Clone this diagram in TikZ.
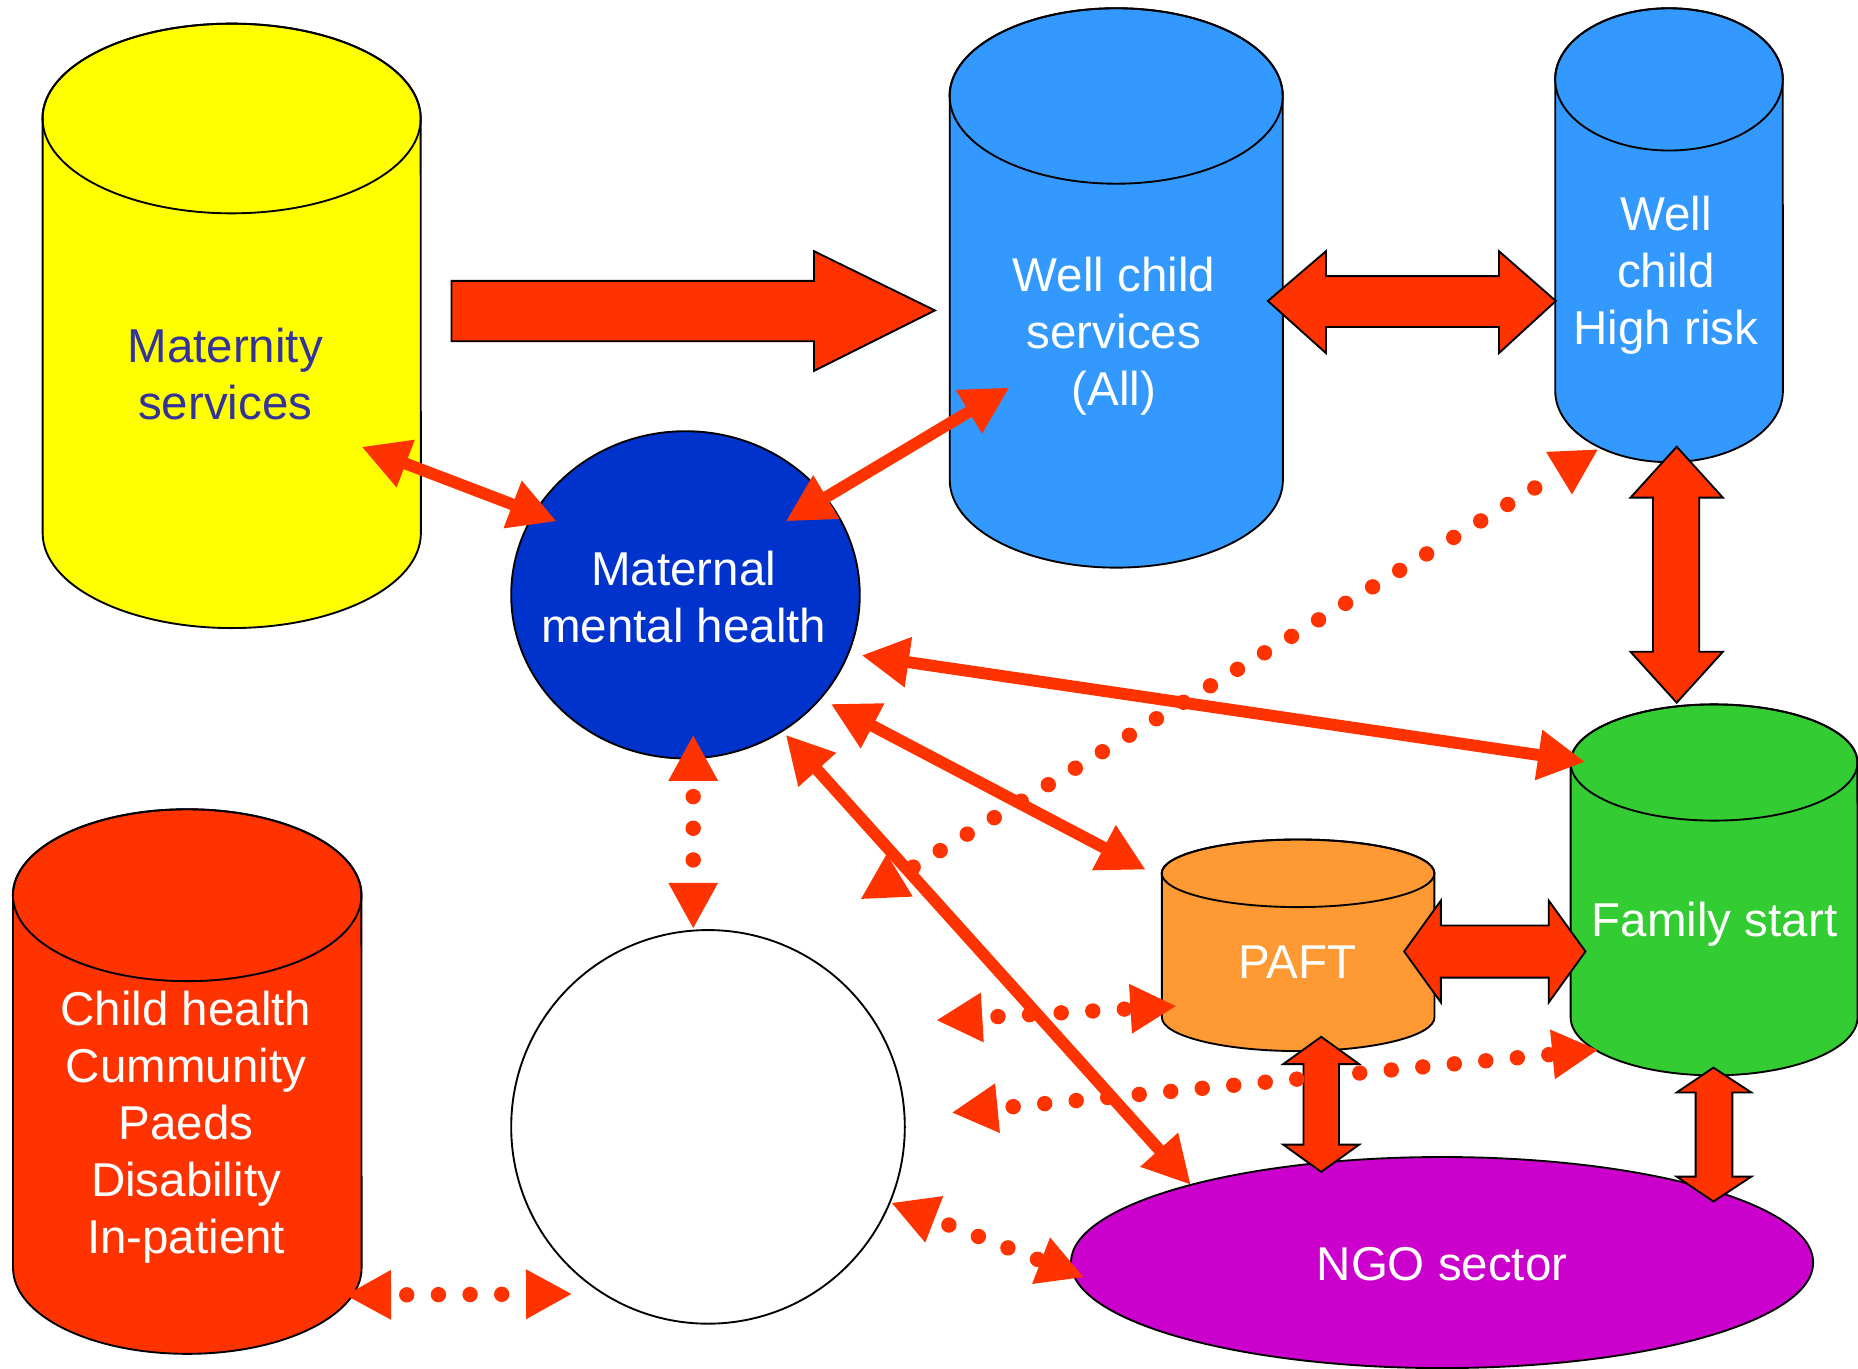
\documentclass[tikz,border=0pt]{standalone}
\usepackage{fontspec}
\setmainfont{Liberation Sans}
\usetikzlibrary{arrows.meta}
\definecolor{cyellow}{HTML}{FFFF00}
\definecolor{clblue}{HTML}{3399FF}
\definecolor{cdblue}{HTML}{0033CC}
\definecolor{cred}{HTML}{FF3300}
\definecolor{corange}{HTML}{FF9933}
\definecolor{cgreen}{HTML}{33CC33}
\definecolor{cmag}{HTML}{CC00CC}
\definecolor{cnavy}{HTML}{333399}
\begin{document}
\begin{tikzpicture}[x=0.01cm,y=0.01cm,
  outl/.style={draw=black, line width=0.45pt},
  blockarrow/.style={fill=cred, draw=black, line width=0.45pt, line join=miter},
  linkarrow/.style={draw=cred, line width=0.1cm, >={Triangle[length=0.4cm,width=0.4cm]}, <->},
  dotarrow/.style={draw=cred, line width=0.13cm, line cap=round, dash pattern=on 0pt off 0.267cm, dash phase=0.11cm, >={Triangle[length=0.39cm,width=0.39cm]}, <->},
  lbl/.style={font=\fontsize{11.4}{13.7}\selectfont, align=center, text=white, inner sep=0pt}
]
\useasboundingbox (0,0) rectangle (1568,-1155);

% ---------- cylinders ----------
% Maternity
\filldraw[fill=cyellow, outl] (36,-100) -- (36,-450) arc[start angle=180,end angle=360,x radius=1.595cm,y radius=0.8cm] -- (355,-100) arc[start angle=0,end angle=180,x radius=1.595cm,y radius=0.8cm] -- cycle;
\draw[outl] (195.5,-100) ellipse[x radius=1.595cm, y radius=0.8cm];
% Well child (All)
\filldraw[fill=clblue, outl] (801.5,-81) -- (801.5,-405) arc[start angle=180,end angle=360,x radius=1.405cm,y radius=0.74cm] -- (1082.5,-81) arc[start angle=0,end angle=180,x radius=1.405cm,y radius=0.74cm] -- cycle;
\draw[outl] (942,-81) ellipse[x radius=1.405cm, y radius=0.74cm];
% Well child high risk
\filldraw[fill=clblue, outl] (1312.5,-67) -- (1312.5,-330) arc[start angle=180,end angle=360,x radius=0.96cm,y radius=0.6cm] -- (1504.5,-67) arc[start angle=0,end angle=180,x radius=0.96cm,y radius=0.6cm] -- cycle;
\draw[outl] (1408.5,-67) ellipse[x radius=0.96cm, y radius=0.6cm];
% Child health
\filldraw[fill=cred, outl] (11,-755.5) -- (11,-1070) arc[start angle=180,end angle=360,x radius=1.47cm,y radius=0.725cm] -- (305,-755.5) arc[start angle=0,end angle=180,x radius=1.47cm,y radius=0.725cm] -- cycle;
\draw[outl] (158,-755.5) ellipse[x radius=1.47cm, y radius=0.725cm];
% PAFT
\filldraw[fill=corange, outl] (980.5,-737) -- (980.5,-858.5) arc[start angle=180,end angle=360,x radius=1.15cm,y radius=0.285cm] -- (1210.5,-737) arc[start angle=0,end angle=180,x radius=1.15cm,y radius=0.285cm] -- cycle;
\draw[outl] (1095.5,-737) ellipse[x radius=1.15cm, y radius=0.285cm];
% Family start
\filldraw[fill=cgreen, outl] (1325.5,-643.5) -- (1325.5,-858.5) arc[start angle=180,end angle=360,x radius=1.21cm,y radius=0.49cm] -- (1567.5,-643.5) arc[start angle=0,end angle=180,x radius=1.21cm,y radius=0.49cm] -- cycle;
\draw[outl] (1446.5,-643.5) ellipse[x radius=1.21cm, y radius=0.49cm];

% ---------- ellipses ----------
\filldraw[fill=cdblue, outl] (578.5,-502) ellipse[x radius=1.47cm, y radius=1.38cm];
\filldraw[fill=white, outl] (597.5,-951) ellipse[x radius=1.66cm, y radius=1.66cm];
\filldraw[fill=cmag, outl] (1217,-1065.5) ellipse[x radius=3.13cm, y radius=0.89cm];

% ---------- labels ----------
\node[lbl, text=cnavy] (mat) at (190,-315.5) {Maternity\\services};
\node[lbl] (wca) at (940,-284) {Well child\\services\\(All)};
\node[lbl] (wch) at (1406,-232.5) {Well\\child\\High risk};
\node[lbl] (mmh) at (577,-504) {Maternal\\mental health};
\node[lbl] (chh) at (157,-951.5) {Child health\\Cummunity\\Paeds\\Disability\\In-patient};
\node[lbl] (paft) at (1095,-812) {PAFT};
\node[lbl] (fs) at (1447,-780) {Family start};
\node[lbl] (ngo) at (1217,-1067) {NGO sector};

% ---------- block arrows ----------
\filldraw[blockarrow] (381,-237) -- (687,-237) -- (687,-212) -- (789,-262) -- (687,-313) -- (687,-288) -- (381,-288) -- cycle;
\filldraw[blockarrow] (1070,-254) -- (1119,-212) -- (1119,-233) -- (1265,-233) -- (1265,-212) -- (1313,-254) -- (1265,-298) -- (1265,-276) -- (1119,-276) -- (1119,-298) -- cycle;
\filldraw[blockarrow] (1415,-377) -- (1454,-420) -- (1434,-420) -- (1434,-550) -- (1454,-550) -- (1415,-593) -- (1376,-550) -- (1395,-550) -- (1395,-420) -- (1376,-420) -- cycle;
\filldraw[blockarrow] (1185,-803) -- (1216,-760) -- (1216,-781) -- (1307,-781) -- (1307,-760) -- (1338,-803) -- (1307,-846) -- (1307,-825) -- (1216,-825) -- (1216,-846) -- cycle;
\filldraw[blockarrow] (1115,-875) -- (1147,-898) -- (1130,-898) -- (1130,-966) -- (1147,-966) -- (1115,-989) -- (1083,-966) -- (1100,-966) -- (1100,-898) -- (1083,-898) -- cycle;
\filldraw[blockarrow] (1446,-901) -- (1478,-922) -- (1462,-922) -- (1462,-993) -- (1478,-993) -- (1446,-1014) -- (1415,-993) -- (1431,-993) -- (1431,-922) -- (1415,-922) -- cycle;

% ---------- connector end points ----------
\coordinate (a1) at (305,-377);  \coordinate (a2) at (470,-440);
\coordinate (b1) at (663,-440);  \coordinate (b2) at (852,-327);
\coordinate (c1) at (727,-553);  \coordinate (c2) at (1338,-643);
\coordinate (d1) at (701,-594);  \coordinate (d2) at (967,-734);
\coordinate (e1) at (663,-620);  \coordinate (e2) at (1005,-1000);
\coordinate (f1) at (726,-759);  \coordinate (f2) at (1349,-379);
\coordinate (g1) at (585,-620);  \coordinate (g2) at (585,-784);
\coordinate (h1) at (291,-1093); \coordinate (h2) at (483,-1092);
\coordinate (i1) at (790,-861);  \coordinate (i2) at (993,-849);
\coordinate (j1) at (803,-939);  \coordinate (j2) at (1349,-886);
\coordinate (k1) at (752,-1015); \coordinate (k2) at (915,-1078);

% ---------- solid links ----------
\draw[linkarrow] (a1) -- (a2);
\draw[linkarrow] (b1) -- (b2);
\draw[linkarrow] (c1) -- (c2);
\draw[linkarrow] (d1) -- (d2);
\draw[linkarrow] (e1) -- (e2);

% ---------- dotted links ----------
\draw[dotarrow] (f1) -- (f2);
\draw[dotarrow] (g1) -- (g2);
\draw[dotarrow] (h1) -- (h2);
\draw[dotarrow] (i1) -- (i2);
\draw[dotarrow] (j1) -- (j2);
\draw[dotarrow] (k1) -- (k2);
\end{tikzpicture}
\end{document}
